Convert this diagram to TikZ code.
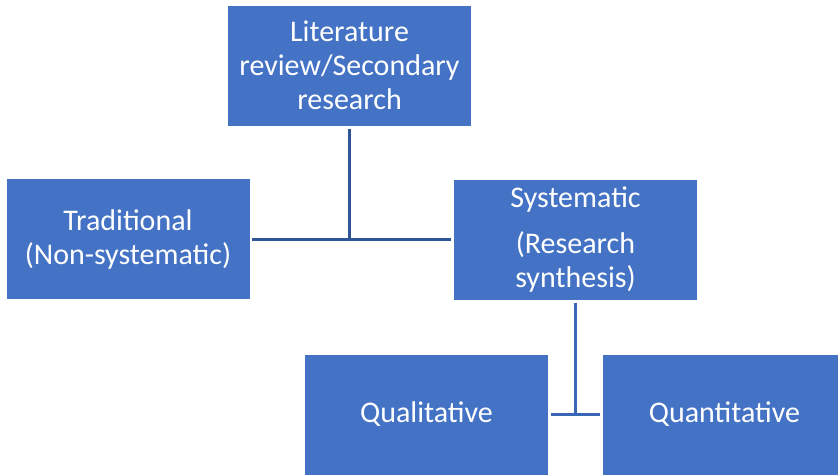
\documentclass[tikz,border=0pt]{standalone}
\usepackage{fontspec}
\setmainfont{Carlito}
\usepackage{xcolor}
\usetikzlibrary{positioning,calc}
\definecolor{boxblue}{HTML}{4472C4}
\definecolor{linkdark}{HTML}{2F5597}
\definecolor{linkmid}{HTML}{3A66B8}

\begin{document}
\begin{tikzpicture}[x=1pt,y=-1pt]
	\tikzset{box/.style = {shape=rectangle,fill=boxblue,text=white,align=center,minimum width=243pt,minimum height=120pt,inner sep=0pt,font=\fontsize{30}{34}\selectfont}}
	\tikzset{link/.style = {-,line width=3pt}}
	\useasboundingbox (0,0) rectangle (838,475);

	\node[box] (lit) at (349.5,65.5) {Literature\\review/Secondary\\research};
	\node[box] (trad) at (128,239) {Traditional\\(Non-systematic)};
	\node[box] (sys) at (575.5,239.5) {Systematic\\[12pt](Research\\synthesis)};
	\node[box] (qual) at (426.5,414.5) {Qualitative};
	\node[box] (quant) at (724.5,414.5) {Quantitative};

	\coordinate (j1) at (lit.south |- trad.east);
	\coordinate (j2) at (sys.south |- qual.east);

	\draw[link,linkdark] ([yshift=-3pt]lit.south) -- (j1);
	\draw[link,linkdark] ([xshift=2pt]trad.east) -- ([xshift=-3pt]sys.west |- j1);
	\draw[link,linkmid] ([yshift=-3pt]sys.south) -- (j2);
	\draw[link,linkmid] ([xshift=3pt]qual.east |- j2) -- ([xshift=-3pt]quant.west |- j2);
\end{tikzpicture}
\end{document}
